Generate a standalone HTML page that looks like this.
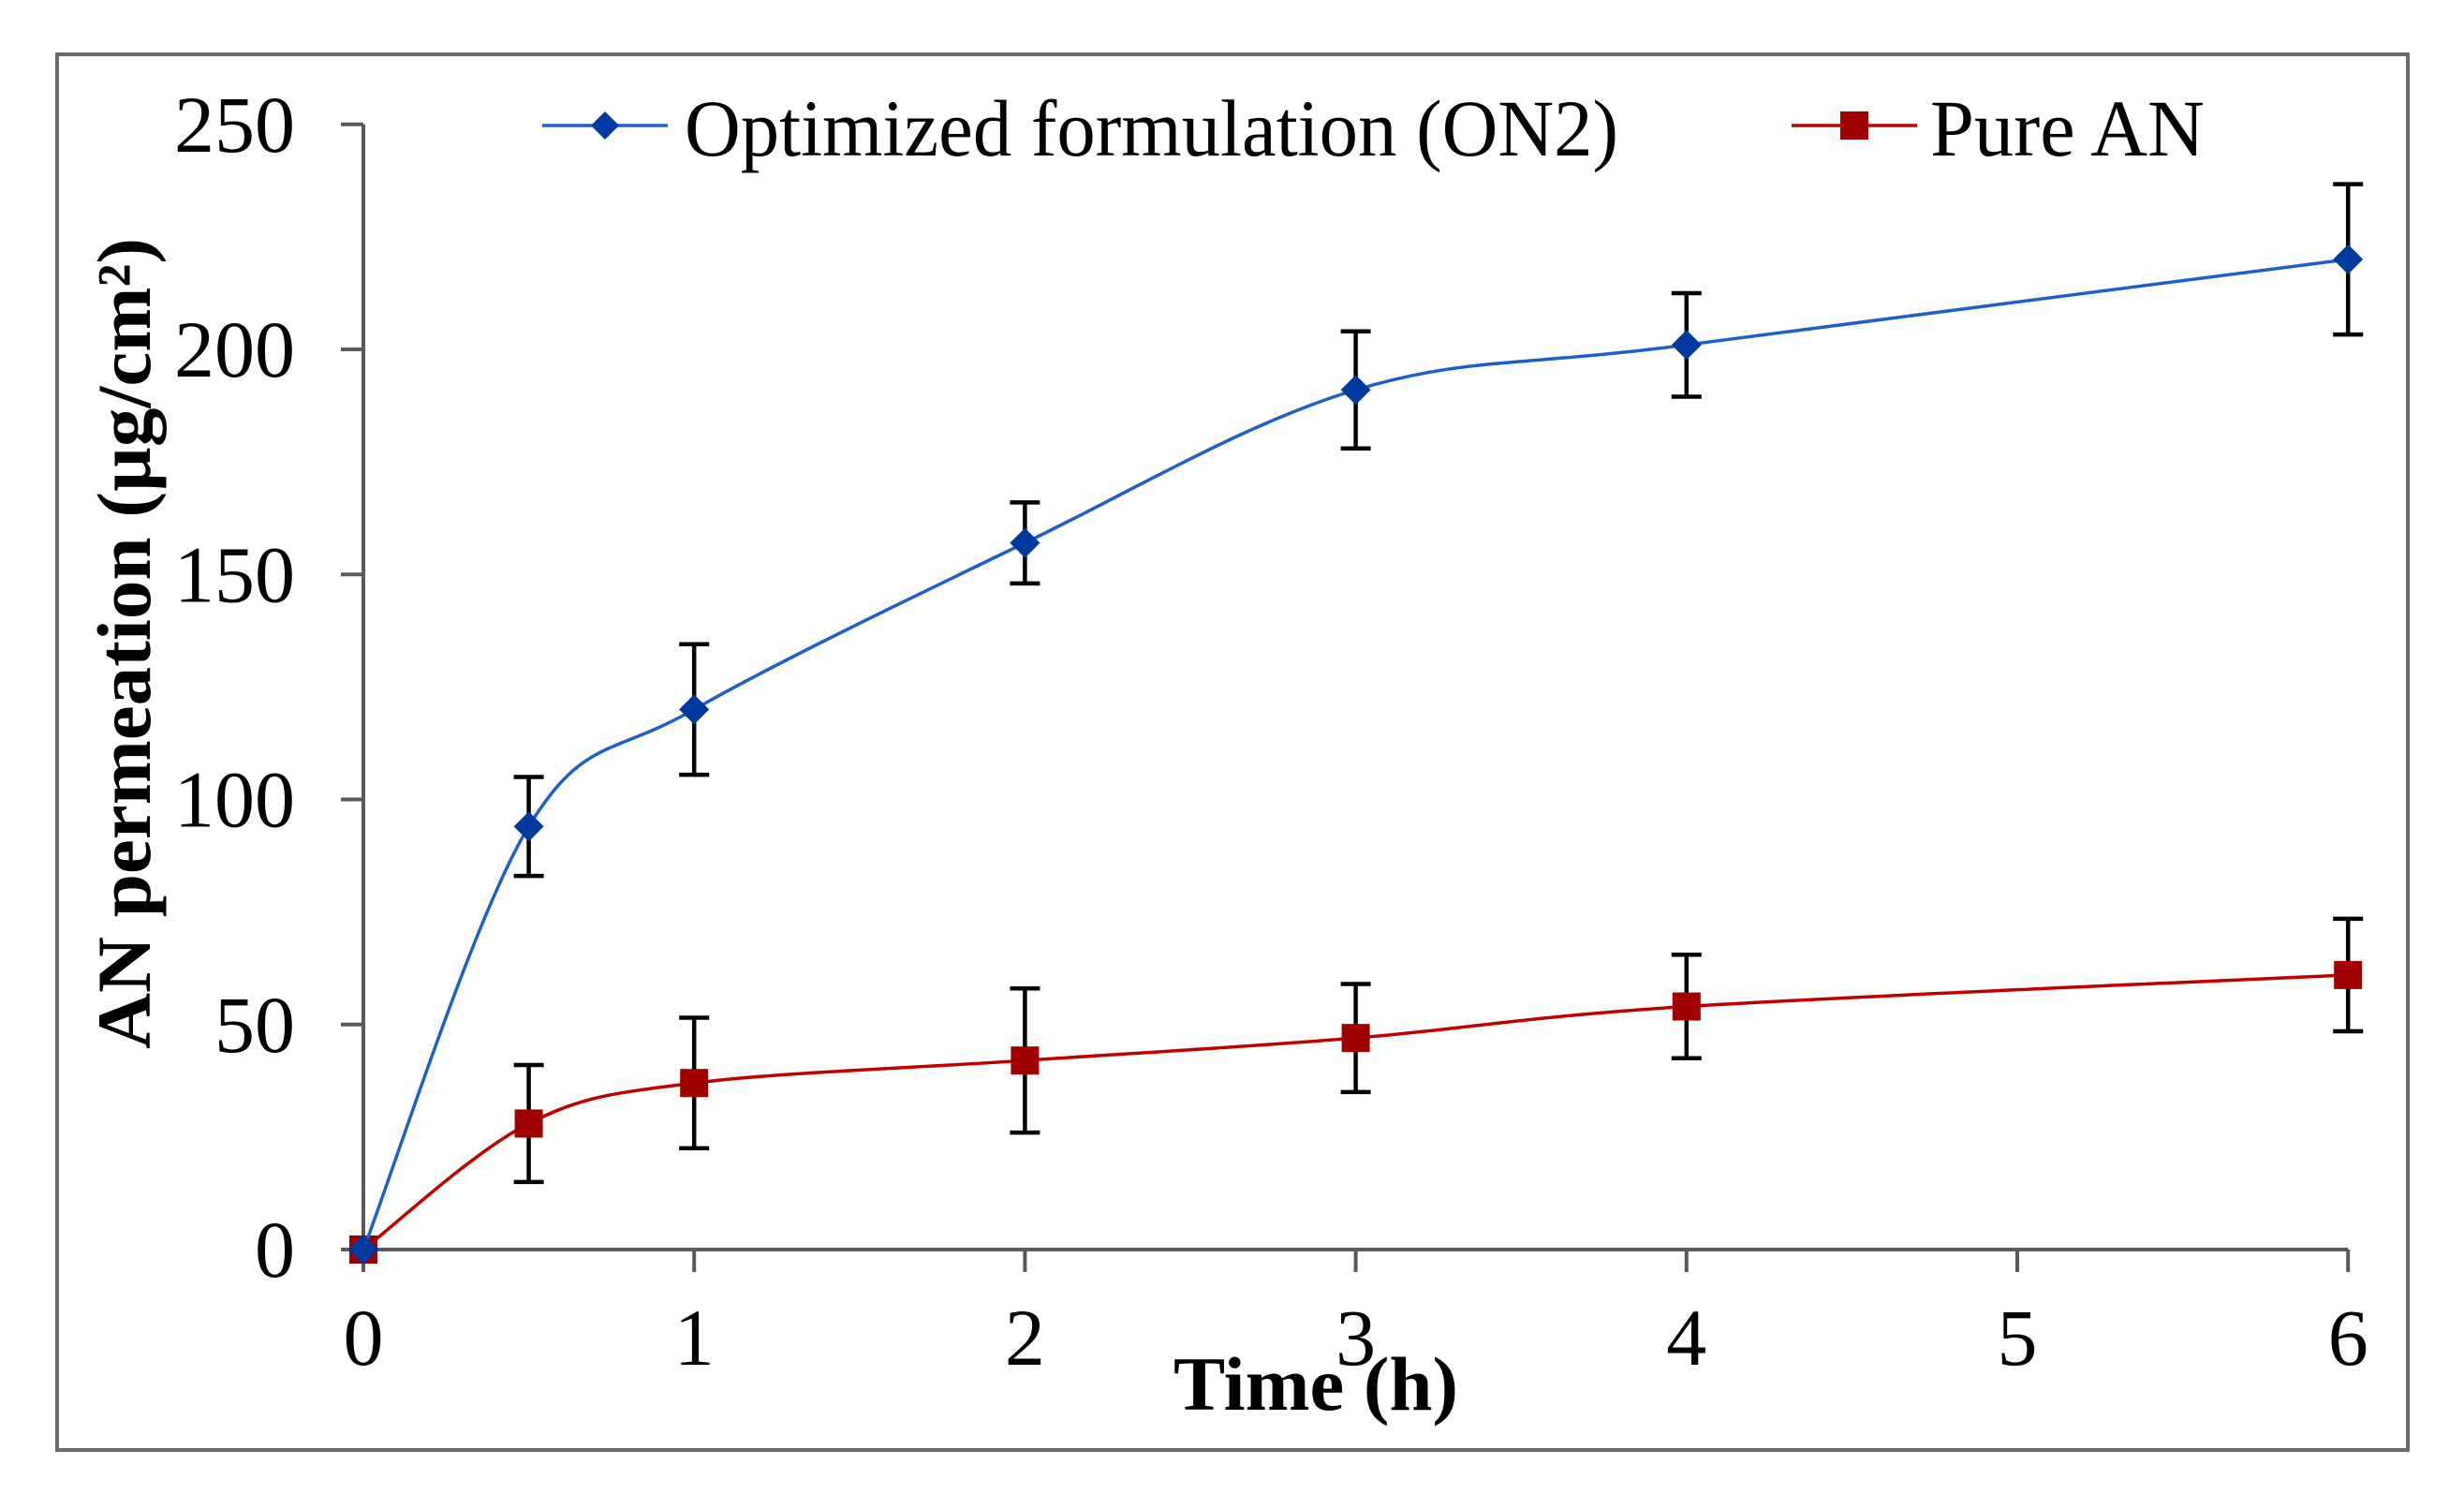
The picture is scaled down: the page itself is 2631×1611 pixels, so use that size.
<!DOCTYPE html>
<html><head><meta charset="utf-8"><style>
html,body{margin:0;padding:0;background:#fff;}
svg{display:block;}
text{font-family:"Liberation Serif",serif;fill:#000;}
</style></head><body>
<svg id="chart" width="2631" height="1611" viewBox="0 0 2631 1611" xmlns="http://www.w3.org/2000/svg">
<rect x="61" y="58" width="2510" height="1490" fill="#fff" stroke="#6b6b6b" stroke-width="4"/>
<g id="axes"></g>
<g id="series"></g>
<g>
  <line x1="579" y1="134" x2="713" y2="134" stroke="#1f5fc8" stroke-width="3.5"/>
  <path d="M646,119 L661,134 L646,149 L631,134 Z" fill="#0039a0"/>
  <text x="731" y="166" font-size="86" textLength="997" lengthAdjust="spacingAndGlyphs">Optimized formulation (ON2)</text>
  <line x1="1913" y1="134" x2="2047" y2="134" stroke="#c00000" stroke-width="3.5"/>
  <rect x="1965" y="119" width="30" height="30" fill="#a00000"/>
  <text x="2061" y="166" font-size="86" textLength="293" lengthAdjust="spacingAndGlyphs">Pure AN</text>
</g>
<text x="1253" y="1505" font-size="82" font-weight="bold" textLength="304" lengthAdjust="spacingAndGlyphs">Time (h)</text>
<text transform="translate(160,1120) rotate(-90)" x="0" y="0" font-size="82" font-weight="bold" textLength="866" lengthAdjust="spacingAndGlyphs">AN permeation (µg/cm²)</text>
</svg>
<script>
const xTicks = [0,1,2,3,4,5,6];
const yTicks = [0,50,100,150,200,250];
const times = [0,0.5,1,2,3,4,6];
const on2Values = [0,94,120,157,191,201,220];
const on2Errors = [0,11,14.5,9,13,11.5,16.7];
const pureValues = [0,28,37,42,47,54,61];
const pureErrors = [0,13,14.5,16,12,11.5,12.5];

const X0=388, XS=353.2, Y0=1334, YS=4.805;
function xPos(v){return X0+v*XS;}
function yPos(v){return Y0-v*YS;}
const NS='http://www.w3.org/2000/svg';
function mk(tag,attrs,parent){const e=document.createElementNS(NS,tag);for(const k in attrs)e.setAttribute(k,attrs[k]);parent.appendChild(e);return e;}
const axes=document.getElementById('axes');
const series=document.getElementById('series');

let a=mk('line',{x1:xPos(0),y1:yPos(0),x2:xPos(0),y2:yPos(250),stroke:'#595959','stroke-width':4},axes);


a=mk('line',{x1:xPos(0),y1:yPos(0),x2:xPos(6),y2:yPos(0),stroke:'#595959','stroke-width':4},axes);



yTicks.forEach(v=>{
  const t=mk('line',{x1:xPos(0)-24,y1:yPos(v),x2:xPos(0),y2:yPos(v),stroke:'#595959','stroke-width':4},axes);
  
  
  const l=mk('text',{x:315,y:yPos(v)+29,'font-size':86,'text-anchor':'end'},axes);
  l.textContent=v;
  
  
});
xTicks.forEach(v=>{
  const t=mk('line',{x1:xPos(v),y1:yPos(0),x2:xPos(v),y2:yPos(0)+24,stroke:'#595959','stroke-width':4},axes);
  
  
  const l=mk('text',{x:xPos(v),y:1457,'font-size':86,'text-anchor':'middle'},axes);
  l.textContent=v;
  
  
});

function smoothPath(xs,ys){
  const p=xs.map((x,i)=>[xPos(x),yPos(ys[i])]);
  let d='M'+p[0][0]+','+p[0][1];
  const t=1/3;
  for(let i=0;i<p.length-1;i++){
    const p0=p[i-1]||p[i],p1=p[i],p2=p[i+1],p3=p[i+2]||p[i+1];
    const c1=[p1[0]+(p2[0]-p0[0])*t/2,p1[1]+(p2[1]-p0[1])*t/2];
    const c2=[p2[0]-(p3[0]-p1[0])*t/2,p2[1]-(p3[1]-p1[1])*t/2];
    d+=' C'+c1[0]+','+c1[1]+' '+c2[0]+','+c2[1]+' '+p2[0]+','+p2[1];
  }
  return d;
}
function drawSeries(vals,errs,color,mcolor,shape,name){
  const g=mk('g',{},series);
  
  
  const line=mk('path',{d:smoothPath(times,vals),fill:'none',stroke:color,'stroke-width':3.5},g);
  
  
  times.forEach((t,i)=>{
    if(errs[i]>0){
      const x=xPos(t),yt=yPos(vals[i]+errs[i]),yb=yPos(vals[i]-errs[i]);
      const e=mk('path',{d:`M${x},${yt} V${yb} M${x-16},${yt} H${x+16} M${x-16},${yb} H${x+16}`,stroke:'#000','stroke-width':4.5,fill:'none'},g);
      
      
    }
  });
  times.forEach((t,i)=>{
    const x=xPos(t),y=yPos(vals[i]);
    let m;
    if(shape==='diamond') m=mk('path',{d:`M${x},${y-16} L${x+16},${y} L${x},${y+16} L${x-16},${y} Z`,fill:mcolor},g);
    else m=mk('rect',{x:x-15,y:y-15,width:30,height:30,fill:mcolor},g);
    
    
  });
}
drawSeries(pureValues,pureErrors,'#c00000','#a00000','square','pure-an');
drawSeries(on2Values,on2Errors,'#1f5fc8','#0039a0','diamond','on2');
</script>
</body></html>
